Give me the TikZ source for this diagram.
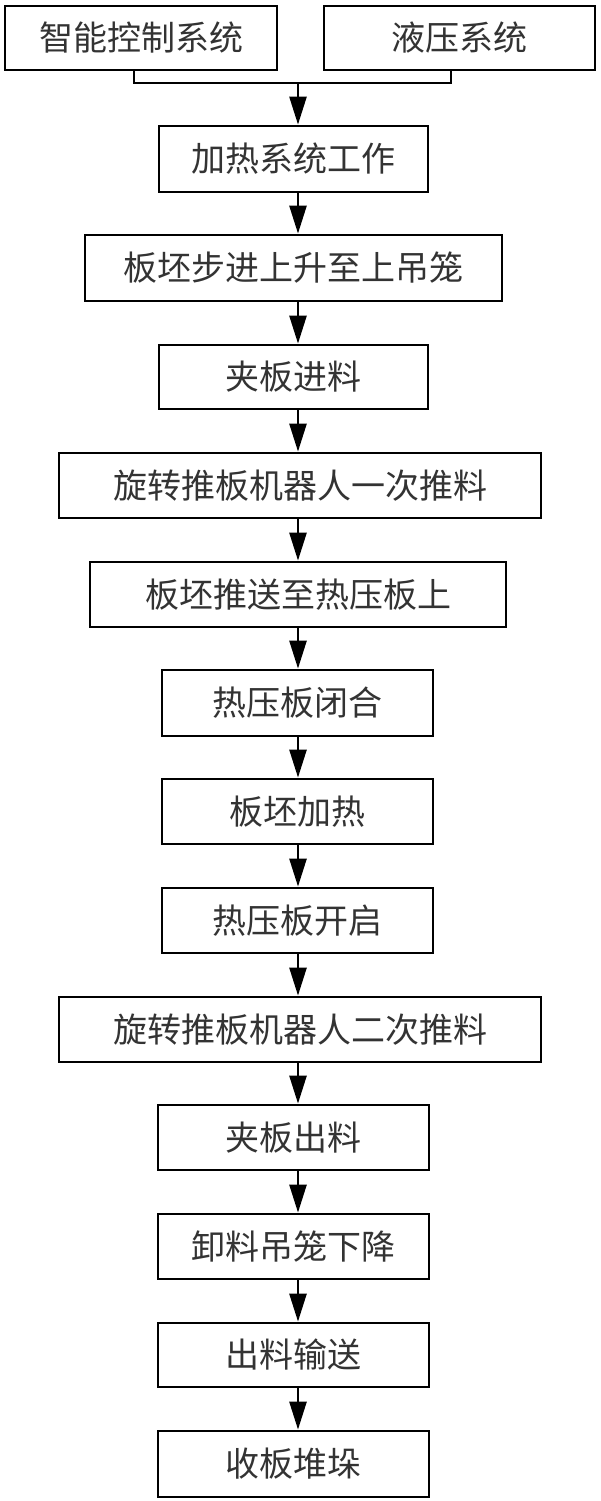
\documentclass[tikz,border=0pt]{standalone}
\usepackage{fontspec}
\newfontfamily\cjk{Noto Sans CJK SC}
\usetikzlibrary{arrows.meta}
\begin{document}
\begin{tikzpicture}[x=1pt,y=-1pt,
  box/.style={draw,line width=2.8pt,inner sep=0pt,font=\cjk\fontsize{34}{36}\selectfont,text=black!80},
  arr/.style={line width=2.6pt,-{Triangle[length=28pt,width=17pt]}}]
\useasboundingbox (0,0) rectangle (600,1501);
\newcommand\bx[6]{\node[box,minimum width=#4-#3,minimum height=#6-#5] (#1) at ({(#3+#4)/2},{(#5+#6)/2}) {#2};}
\bx{a}{智能控制系统}{5}{277}{6}{70}
\bx{b}{液压系统}{324}{595}{6}{70}
\bx{n1}{加热系统工作}{159}{428}{126}{192}
\bx{n2}{板坯步进上升至上吊笼}{85}{502}{235}{301}
\bx{n3}{夹板进料}{159}{428}{345}{409}
\bx{n4}{旋转推板机器人一次推料}{59}{541}{453}{518}
\bx{n5}{板坯推送至热压板上}{90}{506}{562}{627}
\bx{n6}{热压板闭合}{162}{433}{670}{736}
\bx{n7}{板坯加热}{162}{433}{779}{844}
\bx{n8}{热压板开启}{162}{433}{888}{953}
\bx{n9}{旋转推板机器人二次推料}{59}{541}{997}{1062}
\bx{n10}{夹板出料}{158}{429}{1105}{1170}
\bx{n11}{卸料吊笼下降}{158}{429}{1214}{1279}
\bx{n12}{出料输送}{158}{429}{1323}{1387}
\bx{n13}{收板堆垛}{158}{429}{1431}{1497}
\coordinate (j) at (298,83);
\draw[line width=2.6pt] (a.south -| 134,0) |- (j) -| (b.south -| 451,0);
\draw[arr] (j) -- (n1.north -| j);
\foreach \p/\q in {n1/n2,n2/n3,n3/n4,n4/n5,n5/n6,n6/n7,n7/n8,n8/n9,n9/n10,n10/n11,n11/n12,n12/n13}
  \draw[arr] (\p.south -| j) -- (\q.north -| j);
\end{tikzpicture}
\end{document}
